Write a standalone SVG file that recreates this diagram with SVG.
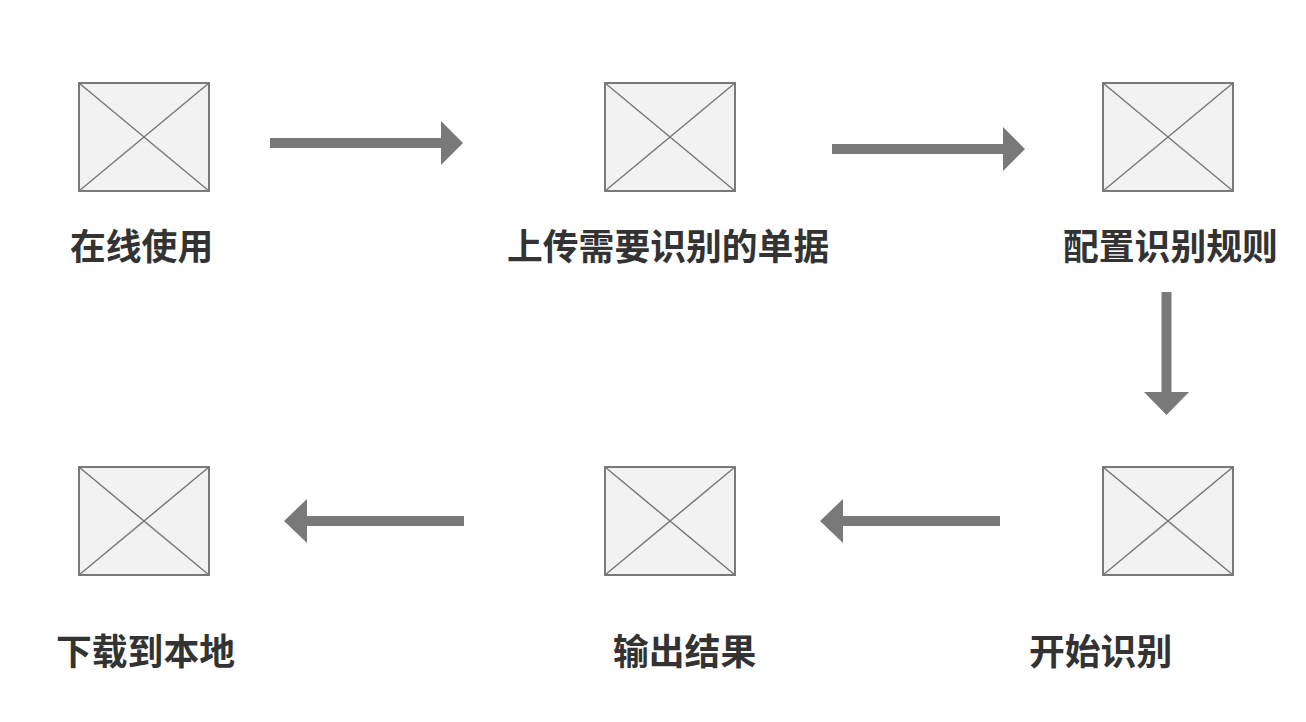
<svg xmlns="http://www.w3.org/2000/svg" width="1306" height="722" viewBox="0 0 1306 722">
<style>
.box{fill:#f2f2f2;stroke:#797979;stroke-width:2}
.x{stroke:#797979;stroke-width:1.5;fill:none}
.lbl{font-family:"Noto Sans CJK SC","Noto Sans",sans-serif;font-size:35.8px;font-weight:bold;fill:#333333}
.arr{fill:#797979}
</style>
<defs>
<g id="ph">
<rect class="box" x="0" y="0" width="130" height="108"/>
<path class="x" d="M0 0L130 108M130 0L0 108"/>
</g>
</defs>
<rect width="1306" height="722" fill="#ffffff"/>
<g id="n1"><use href="#ph" x="79" y="83"/><text class="lbl" x="70" y="260">在线使用</text></g>
<g id="n2"><use href="#ph" x="605" y="83"/><text class="lbl" x="507" y="260">上传需要识别的单据</text></g>
<g id="n3"><use href="#ph" x="1103" y="83"/><text class="lbl" x="1063" y="260">配置识别规则</text></g>
<g id="n4"><use href="#ph" x="1103" y="467"/><text class="lbl" x="1029" y="665">开始识别</text></g>
<g id="n5"><use href="#ph" x="605" y="467"/><text class="lbl" x="613" y="665">输出结果</text></g>
<g id="n6"><use href="#ph" x="79" y="467"/><text class="lbl" x="56" y="665">下载到本地</text></g>
<g id="connectors">
<path class="arr" d="M270 138H441V121L463 143L441 165V148H270Z"/>
<path class="arr" d="M832 144H1003V127L1025 149L1003 171V154H832Z"/>
<path class="arr" d="M1161.5 292V392H1144L1166.5 415L1189 392H1171.5V292Z"/>
<path class="arr" d="M1000 516H843V499L820 521L843 543V526H1000Z"/>
<path class="arr" d="M464 516H307V499L284 521L307 543V526H464Z"/>
</g>
</svg>
